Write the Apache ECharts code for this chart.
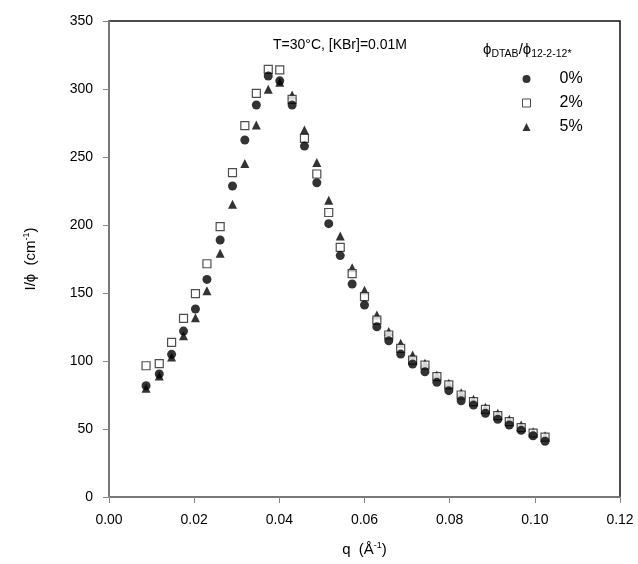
<!DOCTYPE html>
<html>
<head>
<meta charset="utf-8">
<script src="https://cdn.jsdelivr.net/npm/echarts@6/dist/echarts.min.js"></script>
<style>
html,body{margin:0;padding:0;background:#fff;}
#c{width:638px;height:564px;}
</style>
</head>
<body>
<div id="c"></div>
<script>
const q = [0.0087,0.0118,0.0147,0.0175,0.0203,0.0230,0.0261,0.0290,0.0319,0.0346,0.0374,0.0401,0.0430,0.0459,0.0488,0.0516,0.0543,0.0571,0.0600,0.0629,0.0657,0.0685,0.0713,0.0742,0.0770,0.0798,0.0827,0.0856,0.0884,0.0913,0.0940,0.0968,0.0996,0.1024];
const dtab0 = [81.8,90.4,104.9,122,138.2,160,189,228.7,262.5,288.2,309.6,306,288.2,258,231.1,201,177.5,156.6,141.2,125.2,114.9,105.1,97.8,92.1,84.3,78.2,70.8,67.6,61.5,57.1,52.9,49,45,41];
const dtab2 = [96.5,98,113.7,131.4,149.5,171.5,198.8,238.5,273,296.8,314.5,314,292.4,263.7,237.5,209.2,183.5,164.3,147.3,130.1,119.1,109.3,100.7,97,88.5,82.4,75,70.1,64.5,59.8,55.4,51,47,44];
const dtab5 = [80,89,103,118.6,131.8,151.6,179.2,215.2,245.3,273.5,299.8,305,295.6,269.8,245.9,218.2,192,168.5,152,133.8,121.6,113,104.4,98.3,89.7,83.6,76.7,71.8,66,61.5,57.1,53,48,45];
const legendNames = ['0%','2%','5%'];
const xTicks = {min:0,max:0.12,interval:0.02};
const yTicks = {min:0,max:350,interval:50};

const pair = (ys) => q.map((x,i)=>[x,ys[i]]);
const font = 'Liberation Sans, Arial, sans-serif';

const chart = echarts.init(document.getElementById('c'), null, {renderer:'canvas'});
chart.setOption({
  backgroundColor:'#fff',
  animation:false,
  textStyle:{fontFamily:font},
  grid:{left:109,right:18,top:21,bottom:67,show:true,borderColor:'#111',borderWidth:1.5,backgroundColor:'transparent'},
  title:[
    {text:'T=30°C, [KBr]=0.01M',left:268,top:33,textStyle:{fontFamily:font,fontSize:14,fontWeight:'normal',color:'#000'}},
    {text:'{p|ϕ}{s|DTAB}{p|/ϕ}{s|12-2-12*}',left:478,top:35,
     textStyle:{fontWeight:'normal',rich:{
       p:{fontFamily:font,fontSize:15,fontWeight:'normal',color:'#000',lineHeight:20},
       s:{fontFamily:font,fontSize:10.5,fontWeight:'normal',color:'#000',lineHeight:20,padding:[9,0,0,0]}
     }}}
  ],
  legend:{
    data:legendNames,
    orient:'vertical',
    left:517,top:66,
    itemGap:8,
    itemWidth:8,itemHeight:8,
    itemStyle:{borderWidth:1},
    textStyle:{fontFamily:font,fontSize:16,color:'#000',padding:[0,0,0,24]},
    selectedMode:false
  },
  xAxis:{
    type:'value',min:xTicks.min,max:xTicks.max,interval:xTicks.interval,
    name:'q  (Å{sup|-1})',nameLocation:'middle',nameGap:44,
    nameTextStyle:{fontFamily:font,fontSize:15,color:'#000',rich:{sup:{fontSize:9,padding:[0,0,8,0],color:'#000'}}},
    axisLine:{show:true,lineStyle:{color:'#888',width:1.5}},
    axisTick:{show:true,inside:false,length:6,lineStyle:{color:'#888'}},
    axisLabel:{fontFamily:font,fontSize:14,color:'#000',margin:16,formatter:v=>v.toFixed(2)},
    splitLine:{show:false}
  },
  yAxis:{
    type:'value',min:yTicks.min,max:yTicks.max,interval:yTicks.interval,
    name:'I/ϕ  (cm{sup|-1})',nameLocation:'middle',nameGap:70,
    nameTextStyle:{fontFamily:font,fontSize:15,color:'#000',rich:{sup:{fontSize:9,padding:[0,0,8,0],color:'#000'}}},
    axisLine:{show:true,lineStyle:{color:'#888',width:1.5}},
    axisTick:{show:true,inside:false,length:6,lineStyle:{color:'#888'}},
    axisLabel:{fontFamily:font,fontSize:14,color:'#000',margin:16},
    splitLine:{show:false}
  },
  series:[
    {name:'5%',type:'scatter',data:pair(dtab5),symbol:'triangle',symbolSize:9,z:2,
     itemStyle:{color:'#000'}},
    {name:'2%',type:'scatter',data:pair(dtab2),symbol:'rect',symbolSize:8,z:3,
     itemStyle:{color:'#fff',borderColor:'#222',borderWidth:1.2}},
    {name:'0%',type:'scatter',data:pair(dtab0),symbol:'circle',symbolSize:9,z:4,
     itemStyle:{color:'#000'}}
  ]
});
</script>
</body>
</html>
